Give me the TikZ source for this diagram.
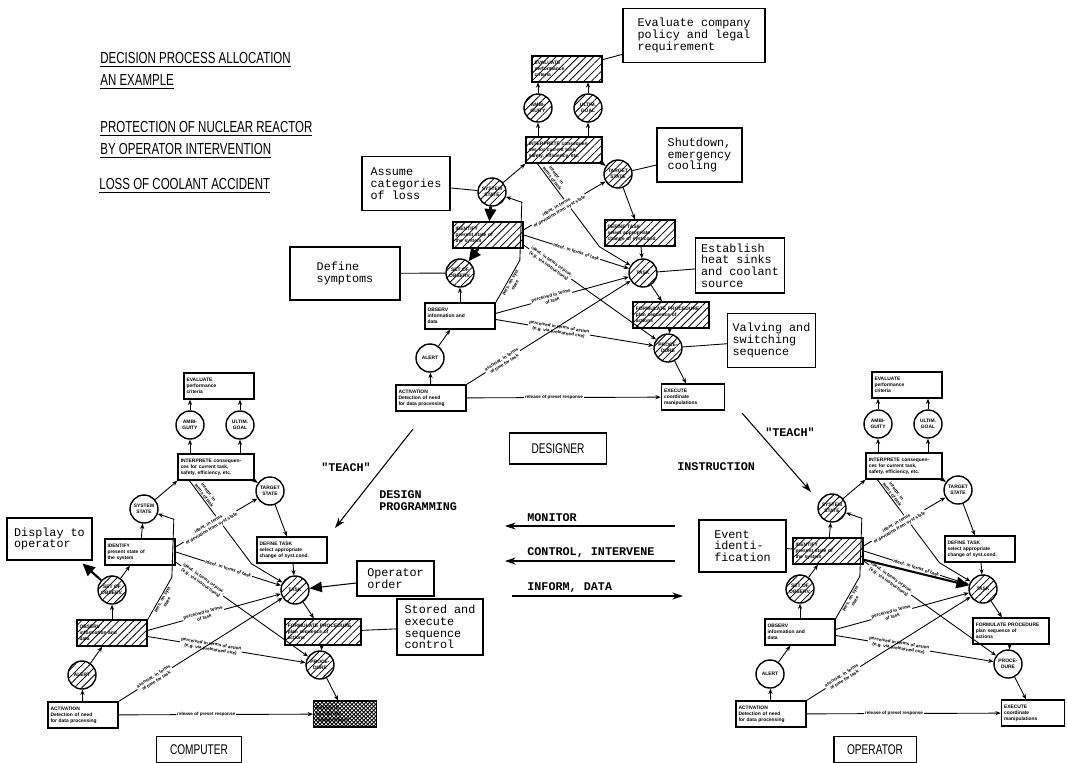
\documentclass[tikz,border=0pt]{standalone}
\usepackage{fontspec}
\setmainfont{Liberation Sans}
\newfontfamily\typefont{Liberation Mono}
\newfontfamily\narrowfont[FakeStretch=0.72]{Liberation Sans}
\usetikzlibrary{arrows.meta,patterns.meta}

\tikzset{
  lbox/.style={draw, line width=0.8pt, align=left, text width=1.3cm, inner sep=1.5pt,
    minimum height=0.52cm, font=\fontsize{2.8}{3.4}\selectfont\bfseries},
  wbox/.style={lbox, text width=1.41cm},
  nbox/.style={lbox, text width=1.16cm},
  lcirc/.style={draw, circle, line width=0.8pt, minimum size=0.56cm, inner sep=0pt,
    align=center, font=\fontsize{2.8}{3.4}\selectfont\bfseries},
  lbl/.style={sloped, align=center, inner sep=0.5pt, font=\fontsize{2.6}{3.1}\selectfont\bfseries},
  onl/.style={fill=white},
  hatch/.style={pattern={Lines[angle=45, distance=3pt, line width=0.45pt]}},
  xhatch/.style={pattern={Hatch[angle=45, distance=1.6pt, line width=0.5pt]}},
  link/.style={line width=0.5pt, -{Stealth[length=3pt, width=2.4pt]}},
  fat/.style={line width=1.6pt, -{Triangle[length=7pt, width=6.5pt]}},
  pointer/.style={line width=0.6pt, -{Triangle[length=7pt, width=6pt]}},
  arr/.style={line width=0.6pt, -{Stealth[length=6pt, width=4pt]}},
  note/.style={draw, line width=0.6pt, align=left, inner xsep=3pt, inner ysep=3pt,
    minimum height=1.08cm, font=\typefont\fontsize{6.7}{6.7}\selectfont},
  tag/.style={draw, line width=0.7pt, inner xsep=7.5pt, inner ysep=2pt, minimum height=0.52cm,
    font=\narrowfont\fontsize{8}{8}\selectfont},
  title/.style={anchor=west, inner sep=0pt, font=\narrowfont\fontsize{9.1}{9}\selectfont},
  say/.style={inner sep=0pt, align=left, font=\typefont\bfseries\fontsize{6.7}{7}\selectfont},
}

\newcommand{\ladder}[1]{%
  \node[lbox, heval/.try] (#1eval) at (567,69) {EVALUATE\\performance\\criteria};
  \node[lcirc, hamb/.try] (#1amb) at (538,108) {AMBI-\\GUITY};
  \node[lcirc, hult/.try] (#1ult) at (588,108) {ULTIM.\\GOAL};
  \node[wbox, hinterp/.try] (#1interp) at (564,150) {INTERPRETE consequen-\\ces for current task,\\safety, efficiency, etc.};
  \node[lcirc, hsys/.try] (#1sys) at (492,192) {SYSTEM\\STATE};
  \node[lcirc, htgt/.try] (#1tgt) at (618,174) {TARGET\\STATE};
  \node[lbox, hident/.try] (#1ident) at (488,235) {IDENTIFY\\present state of\\the system};
  \node[lbox, hdef/.try] (#1def) at (640,233) {DEFINE TASK\\select appropriate\\change of syst.cond.};
  \node[lcirc, hsetobs/.try] (#1setobs) at (460,273) {SET OF\\OBSERV.};
  \node[lcirc, htask/.try] (#1task) at (643,273) {TASK};
  \node[lbox, hobs/.try] (#1obs) at (460,316) {OBSERV\\information and\\data};
  \node[wbox, hform/.try] (#1form) at (671,315) {FORMULATE PROCEDURE\\plan sequence of\\actions};
  \node[lcirc, halert/.try] (#1alert) at (430,358) {ALERT};
  \node[lcirc, hproc/.try] (#1proc) at (668,348) {PROCE-\\DURE};
  \node[lbox, hact/.try] (#1act) at (431,398) {ACTIVATION\\Detection of need\\for data processing};
  \node[nbox, hexe/.try] (#1exe) at (693,397) {EXECUTE\\coordinate\\manipulations};
  \draw[link] (#1interp.north -| #1amb) -- (#1amb);
  \draw[link] (#1amb) -- (#1amb |- #1eval.south);
  \draw[link] (#1interp.north -| #1ult) -- (#1ult);
  \draw[link] (#1ult) -- (#1ult |- #1eval.south);
  \draw[link] (#1sys) -- (#1interp.south west);
  \draw[link] (#1interp.south east) -- (#1tgt);
  \draw[link] (#1tgt) -- (#1def);
  \draw[link] (#1def) -- (#1task);
  \draw[link] (#1task) -- (#1form);
  \draw[link] (#1form) -- (#1proc);
  \draw[link] (#1proc) -- (#1exe);
  \draw[link] (#1act) -- (#1alert);
  \draw[link] (#1alert) -- (#1obs);
  \draw[link] (#1obs) -- (#1setobs);
  \draw[link] (#1obs.north east) -- node[lbl, below, pos=0.5] {pers. on syst\\state} ++(24,-42) -- ++(2,-58) -- (#1sys);
  \draw[link] ([xshift=0.24cm]#1interp.south west) -- node[lbl, above, pos=0.2] {interpr. in\\terms of task} ++(62,83) -- (#1task);
  \draw[link] ([yshift=3pt]#1ident.east) -- node[lbl, onl, pos=0.42] {ident. in terms\\of deviation from syst state} (#1tgt);
  \draw[link] (#1ident.east) -- node[lbl, onl, pos=0.5] {ident. in terms of task} (#1task);
  \draw[link] ([yshift=2pt]#1ident.south east) -- node[lbl, onl, pos=0.2] {ident. in terms of proc.\\(e.g. via instructions)} (#1proc);
  \draw[link] ([yshift=1.5pt]#1obs.east) -- node[lbl, onl, pos=0.42] {perceived in terms\\of task} (#1task);
  \draw[link] ([yshift=-2pt]#1obs.east) -- node[lbl, onl, pos=0.4] {perceived in terms of action\\(e.g. via prelearned cue)} (#1proc);
  \draw[link] (#1act.north east) -- node[lbl, onl, pos=0.22] {associat. in terms\\of time for task} (#1task);
  \draw[link] (#1act) -- node[lbl, onl, pos=0.45] {release of preset response} (#1exe);
}

\begin{document}
\begin{tikzpicture}[x=0.02cm, y=-0.02cm]
\useasboundingbox (0,0) rectangle (1067,762);

\node[title] (head1) at (100,60) {\underline{DECISION PROCESS ALLOCATION}};
\node[title] (head2) at (100,82) {\underline{AN EXAMPLE}};
\node[title] (head3) at (100,129) {\underline{PROTECTION OF NUCLEAR REACTOR}};
\node[title] (head4) at (100,151) {\underline{BY OPERATOR INTERVENTION}};
\node[title] (head5) at (99,186) {\underline{LOSS OF COOLANT ACCIDENT}};

% designer
\begin{scope}[heval/.style=hatch, hamb/.style=hatch, hult/.style=hatch, hinterp/.style=hatch,
  hsys/.style=hatch, htgt/.style=hatch, hident/.style=hatch, hdef/.style=hatch,
  hsetobs/.style=hatch, htask/.style=hatch, hform/.style=hatch, hproc/.style=hatch]
  \ladder{d}
\end{scope}
\draw[fat] (dsys) -- (dident);
\draw[fat] (dident) -- (dsetobs);

% computer
\begin{scope}[shift={(-348,317)}, hsetobs/.style=hatch, hobs/.style=hatch, halert/.style=hatch,
  htask/.style=hatch, hform/.style=hatch, hproc/.style=hatch, hexe/.style=xhatch]
  \ladder{c}
\end{scope}
\draw[link] (csetobs) -- (cident);
\draw[link] (cident) -- (csys);

% operator
\begin{scope}[shift={(340,316)}, hsys/.style=hatch, hident/.style=hatch, hsetobs/.style=hatch,
  htask/.style=hatch]
  \ladder{o}
\end{scope}
\draw[link] (osetobs) -- (oident);
\draw[link] (oident) -- (osys);
\draw[fat, line width=1.2pt] (oident) -- (otask);

\node[note, minimum width=2.84cm] (nEvaluate) at (694,35.5) {Evaluate company\\policy and legal\\requirement};
\node[note, minimum width=1.7cm] (nShutdown) at (699.5,155) {Shutdown,\\emergency\\cooling};
\node[note, minimum width=1.76cm] (nAssume) at (406,183.5) {Assume\\categories\\of loss};
\node[note, minimum width=1.72cm, minimum height=1.1cm] (nEstablish) at (740,265.5) {Establish\\heat sinks\\and coolant\\source};
\node[note, minimum width=2.2cm, minimum height=1.06cm] (nDefine) at (345,273.5) {Define\\symptoms};
\node[note, minimum width=1.74cm] (nValving) at (771.5,340.5) {Valving and\\switching\\sequence};
\node[note, minimum width=1.7cm, minimum height=0.84cm] (nDisplay) at (49.5,539) {Display to\\operator};
\node[note, minimum width=1.54cm, minimum height=0.7cm] (nOrder) at (395.5,578.5) {Operator\\order};
\node[note, minimum width=1.72cm, minimum height=1.12cm] (nStored) at (440,627) {Stored and\\execute\\sequence\\control};
\node[note, minimum width=1.74cm, minimum height=1.04cm] (nEvent) at (742.5,546) {Event\\identi-\\fication};

\draw[line width=0.5pt] (deval) -- (nEvaluate);
\draw[line width=0.5pt] (dtgt) -- (nShutdown);
\draw[line width=0.5pt] (nAssume) -- (dsys);
\draw[line width=0.5pt] (dtask) -- (nEstablish);
\draw[line width=0.5pt] (nDefine) -- (dsetobs);
\draw[line width=0.5pt] (dproc) -- (nValving);
\draw[fat, line width=1.2pt] (csetobs) -- ([xshift=-0.2cm, yshift=-0.06cm]nDisplay.south east);
\draw[pointer] (nOrder) -- (ctask);
\draw[line width=0.5pt] (nStored) -- (cform);
\draw[line width=0.5pt] (nEvent) -- (oident);

\node[tag, inner xsep=12.5pt, minimum height=0.62cm] (designer) at (558,448.5) {DESIGNER};
\node[tag] (computer) at (199,749.5) {COMPUTER};
\node[tag] (operator) at (875,749.5) {OPERATOR};

\coordinate (teachA) at (413,429);
\coordinate (teachB) at (335,528);
\draw[arr] (teachA) -- (teachB);
\node[say] (teach1) at (346,467) {"TEACH"};
\node[say, anchor=north west] (design) at (379,490) {DESIGN\\PROGRAMMING};
\node[say, anchor=west] (instr) at (677,467) {INSTRUCTION};
\coordinate (teachC) at (742,413);
\coordinate (teachD) at (811,492);
\draw[arr] (teachC) -- (teachD);
\node[say] (teach2) at (790,432) {"TEACH"};

\coordinate (monA) at (675,526);
\coordinate (monB) at (505,526);
\draw[arr] (monA) -- (monB);
\node[say, anchor=west] (monitor) at (527,518) {MONITOR};
\coordinate (ctlA) at (675,561);
\coordinate (ctlB) at (505,561);
\draw[arr] (ctlA) -- (ctlB);
\node[say, anchor=west] (control) at (527,553) {CONTROL, INTERVENE};
\coordinate (infA) at (512,596);
\coordinate (infB) at (683,596);
\draw[arr] (infA) -- (infB);
\node[say, anchor=west] (inform) at (527,588) {INFORM, DATA};
\end{tikzpicture}
\end{document}
